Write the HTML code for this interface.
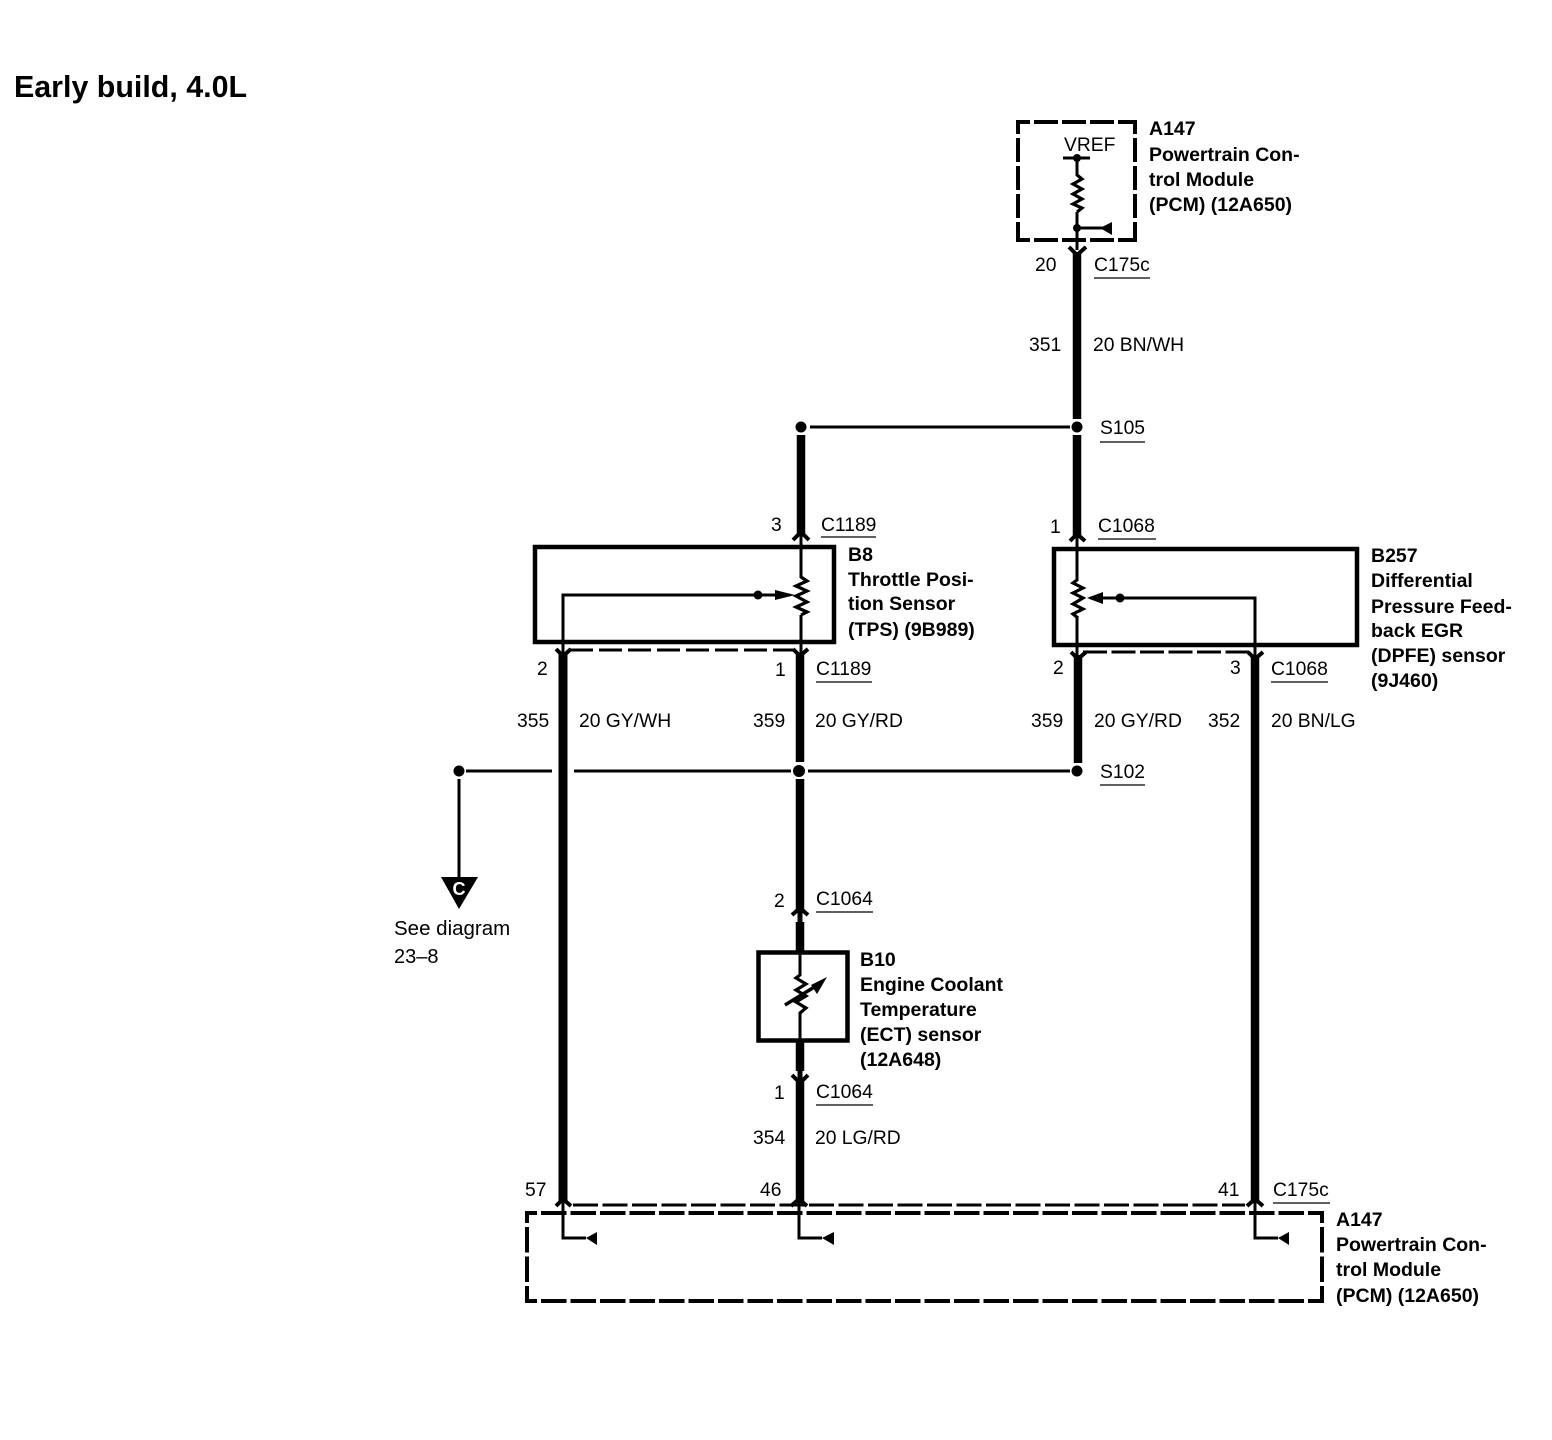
<!DOCTYPE html>
<html><head><meta charset="utf-8"><style>
html,body{margin:0;padding:0;background:#fff}
svg{display:block}
text{font-family:"Liberation Sans",sans-serif;font-size:19.3px;fill:#000}
.b{font-weight:bold;font-size:19.5px}
</style></head><body>
<svg width="1552" height="1440" viewBox="0 0 1552 1440" xmlns="http://www.w3.org/2000/svg">
<rect width="1552" height="1440" fill="#fff"/>
<text x="14" y="97" style="font-size:30.4px;font-weight:bold">Early build, 4.0L</text>

<!-- thick wires -->
<g stroke="#000" stroke-width="8.5" fill="none">
<path d="M1077 252V419M1077 435V536M801 435V536M800 654V762M800 779V913M800 922V952M800 1040V1071M800 1082V1201M1078 655V763M1255 655V1201"/>
<path d="M563 653V1201" stroke-width="9"/>
</g>
<g stroke="#000" stroke-width="5" fill="none">
<path d="M800 912V923M800 1070V1083"/>
</g>
<!-- thin wires -->
<g stroke="#000" stroke-width="3" fill="none">
<path d="M810 427H1070M466 771H552M574 771H791M808 771H1070M459 779V880"/>
<path d="M801 530V578M801 615V655M563 655V595H790"/>
<path d="M1077 530V581M1077 617V655M1255 655V598H1090"/>
<path d="M800 950V976M800 1012V1042"/>
<path d="M1077 158V176M1077 212V250M1063 158H1090M1077 228H1104"/>
<path d="M563 1200V1238H586M799 1200V1238H822M1255 1200V1238H1278"/>
</g>
<!-- resistors -->
<g stroke="#000" stroke-width="3.2" fill="none">
<polyline points="801,577 807,581 796,586 807,591 796,596 807,602 796,607 807,612 801,615"/>
<polyline points="1077,580 1073,583 1083,588 1073,593 1083,598 1073,604 1083,609 1073,614 1078,618"/>
<polyline points="1077,175 1082,179 1073,184 1082,189 1073,194 1082,199 1073,204 1082,208 1077,212"/>
<polyline points="800,975 796,978 806,984 796,990 806,996 796,1002 806,1008 800,1013"/>
<path d="M785 1005 L816 986" stroke-width="3.5"/>
</g>
<polygon points="827,977 811,985 817,994" fill="#000"/>
<!-- dots -->
<g fill="#000">
<circle cx="801" cy="427" r="5.5"/><circle cx="1077" cy="427" r="5.5"/>
<circle cx="799" cy="771" r="6"/><circle cx="1077" cy="771" r="5.5"/><circle cx="459" cy="771" r="5.5"/>
<circle cx="758" cy="595" r="4.5"/><circle cx="1120" cy="598" r="4.5"/>
<circle cx="1077" cy="158" r="4"/><circle cx="1077" cy="228" r="4"/>
<polygon points="441,877 478,877 459,909"/>
<polygon points="795,595 775,590 775,600"/>
<polygon points="1087,598 1103,592 1103,604"/>
<polygon points="1100,228 1112,222 1112,235"/>
<polygon points="586,1238 597,1232 597,1245"/>
<polygon points="822,1238 834,1232 834,1245"/>
<polygon points="1278,1238 1289,1232 1289,1245"/>
</g>
<text x="459" y="895" text-anchor="middle" style="font-size:18px;fill:#fff;font-weight:bold">C</text>
<!-- chevrons -->
<g stroke="#000" stroke-width="4" fill="none">
<path d="M793 540L801 532L809 540M1070 541L1077 534L1085 541M792 915L800 908L808 915"/>
<path d="M556 1206L563 1199L571 1206M791 1206L799 1199L807 1206M1247 1206L1255 1199L1263 1206"/>
<path d="M556 649L563 656L571 649M793 649L800 656L808 649M1071 652L1078 659L1086 652M1248 652L1255 659L1263 652M1069 247L1077 255L1086 247M792 1075L800 1083L808 1075"/>
</g>
<!-- boxes -->
<g stroke="#000" stroke-width="4.5" fill="none">
<rect x="535" y="547" width="299" height="95"/>
<rect x="1054" y="549" width="303" height="96"/>
<rect x="758.5" y="952.5" width="89" height="88"/>
</g>
<g stroke="#000" stroke-width="4" fill="none">
<g stroke-dasharray="24 4" stroke-dashoffset="10">
<path d="M1016 122H1137M1016 240H1137"/>
<path d="M1018 120V242M1135 120V242"/>
</g>
<g stroke-dasharray="25.5 4" stroke-dashoffset="13.5">
<path d="M525 1213H1324M525 1301H1324"/>
<path d="M527 1211V1303M1322 1211V1303"/>
</g>
</g>
<g stroke="#000" stroke-width="3" fill="none">
<path d="M570 650H793" stroke-dasharray="23 6"/>
<path d="M1083 652H1249" stroke-dasharray="24 4.5"/>
<path d="M573 1205H1245" stroke-dasharray="25 4.5"/>
</g>
<!-- underlines -->
<g stroke="#000" stroke-width="1.3">
<path d="M1094 278H1150M1100 442H1145M821 537H876M1098 539H1156M816 682H872M1271 682H1328M1100 785H1145M816 912H873M816 1105H873M1273 1203H1330"/>
</g>
<!-- labels -->
<g>
<text x="1064" y="151">VREF</text>
<text x="1035" y="271">20</text><text x="1094" y="271">C175c</text>
<text x="1029" y="351">351</text><text x="1093" y="351">20 BN/WH</text>
<text x="1100" y="434">S105</text>
<text x="771" y="531">3</text><text x="821" y="531">C1189</text>
<text x="1050" y="533">1</text><text x="1098" y="532">C1068</text>
<text x="537" y="675">2</text><text x="775" y="676">1</text><text x="816" y="675">C1189</text>
<text x="1053" y="674">2</text><text x="1230" y="674">3</text><text x="1271" y="675">C1068</text>
<text x="517" y="727">355</text><text x="579" y="727">20 GY/WH</text>
<text x="753" y="727">359</text><text x="815" y="727">20 GY/RD</text>
<text x="1031" y="727">359</text><text x="1094" y="727">20 GY/RD</text>
<text x="1208" y="727">352</text><text x="1271" y="727">20 BN/LG</text>
<text x="1100" y="778">S102</text>
<text x="394" y="935" style="font-size:20.5px">See diagram</text><text x="394" y="963" style="font-size:20px">23–8</text>
<text x="774" y="907">2</text><text x="816" y="905">C1064</text>
<text x="774" y="1099">1</text><text x="816" y="1098">C1064</text>
<text x="753" y="1144">354</text><text x="815" y="1144">20 LG/RD</text>
<text x="525" y="1196">57</text><text x="760" y="1196">46</text><text x="1218" y="1196">41</text><text x="1273" y="1196">C175c</text>
</g>
<g>
<text class="b" x="1149" y="135">A147</text>
<text class="b" x="1149" y="161">Powertrain Con-</text>
<text class="b" x="1149" y="186">trol Module</text>
<text class="b" x="1149" y="211">(PCM) (12A650)</text>
<text class="b" x="848" y="561">B8</text>
<text class="b" x="848" y="586">Throttle Posi-</text>
<text class="b" x="848" y="610">tion Sensor</text>
<text class="b" x="848" y="636">(TPS) (9B989)</text>
<text class="b" x="1371" y="562">B257</text>
<text class="b" x="1371" y="587">Differential</text>
<text class="b" x="1371" y="613">Pressure Feed-</text>
<text class="b" x="1371" y="637">back EGR</text>
<text class="b" x="1371" y="662">(DPFE) sensor</text>
<text class="b" x="1371" y="687">(9J460)</text>
<text class="b" x="860" y="966">B10</text>
<text class="b" x="860" y="991">Engine Coolant</text>
<text class="b" x="860" y="1016">Temperature</text>
<text class="b" x="860" y="1041">(ECT) sensor</text>
<text class="b" x="860" y="1066">(12A648)</text>
<text class="b" x="1336" y="1226">A147</text>
<text class="b" x="1336" y="1251">Powertrain Con-</text>
<text class="b" x="1336" y="1276">trol Module</text>
<text class="b" x="1336" y="1302">(PCM) (12A650)</text>
</g>
</svg>
</body></html>
